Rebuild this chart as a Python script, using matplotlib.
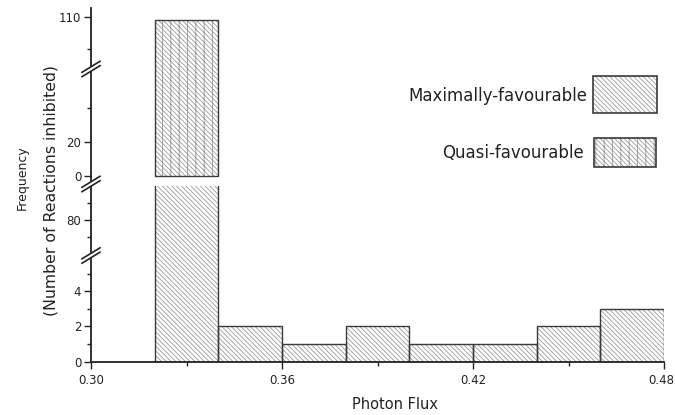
import numpy as np
import matplotlib
matplotlib.use("Agg")
import matplotlib.pyplot as plt
from matplotlib.patches import Rectangle, Polygon
from matplotlib.lines import Line2D
from matplotlib.transforms import ScaledTranslation

# histogram data (photon flux bins)
bin_edges = [0.32, 0.34, 0.36, 0.38, 0.40, 0.42, 0.44, 0.46, 0.48]
max_counts = [96, 2, 1, 2, 1, 1, 2, 3]
quasi_counts = [109, 0, 0, 0, 0, 0, 0, 0]

x_ticks = [0.30, 0.36, 0.42, 0.48]
x_tick_labels = ["0.30", "0.36", "0.42", "0.48"]
x_minor = [0.33, 0.39, 0.45]
low_ticks = [0, 2, 4, 80]
low_minor = [1, 3, 5, 75, 85]
high_ticks = [0, 20, 110]
high_minor = [40, 100]

W, H = 675, 415
EDGE = "#3a3a3a"
HATCH_C = "#9a9a9a"
MAX_HATCH = "\\" * 7
QUASI_HATCH = "\\" * 7 + "||"

plt.rcParams["font.family"] = "DejaVu Sans"
plt.rcParams["hatch.linewidth"] = 0.6


def fx(x):
    return x / W


def fy(y):
    return 1 - y / H


def broken_scale(vals, pix):
    fwd = lambda v: np.interp(v, vals, pix)
    inv = lambda p: np.interp(p, pix, vals)
    return fwd, inv


fig = plt.figure(figsize=(W / 100, H / 100), dpi=100)

# lower panel: 0..6, then 70..90 (maximally-favourable)
ax_lo = fig.add_axes([fx(91), fy(361.5), fx(664) - fx(91), (361.5 - 186) / H])
ax_lo.set_yscale("function", functions=broken_scale(
    [-10, 0, 6, 70, 300], [-175, 0, 105, 107, 107 + 230 * 3.4]))
# upper panel: 0..63, then 94..113 (quasi-favourable)
ax_hi = fig.add_axes([fx(91), fy(182), fx(664) - fx(91), (182 - 8) / H])
ax_hi.set_yscale("function", functions=broken_scale(
    [-20, 0, 63.5, 94, 200], [-28, 6, 114, 114.5, 114.5 + 106 * 3.2]))

lefts = np.array(bin_edges[:-1])
widths = np.diff(bin_edges)
max_counts = np.array(max_counts)
quasi_counts = np.array(quasi_counts)

ax_lo.bar(lefts, max_counts, width=widths, align="edge", color="white",
          edgecolor=HATCH_C, hatch=MAX_HATCH, linewidth=0)
ax_lo.bar(lefts, max_counts, width=widths, align="edge", fill=False,
          edgecolor=EDGE, linewidth=1.0)

m = quasi_counts > 0
ax_hi.bar(lefts[m], quasi_counts[m], width=widths[m], align="edge", color="white",
          edgecolor=HATCH_C, hatch=QUASI_HATCH, linewidth=0)
ax_hi.bar(lefts[m], quasi_counts[m], width=widths[m], align="edge", fill=False,
          edgecolor=EDGE, linewidth=1.0)

for ax in (ax_lo, ax_hi):
    ax.set_xlim(0.30, 0.48)
    for s in ("top", "right"):
        ax.spines[s].set_visible(False)
    ax.spines["left"].set_linewidth(1.3)
    ax.spines["left"].set_color("#222222")
    ax.tick_params(axis="y", which="major", direction="out", length=5, width=1,
                   labelsize=8.5, colors="#222222", pad=2)
    ax.tick_params(axis="y", which="minor", direction="out", length=3, width=1,
                   colors="#222222")
    ax.patch.set_alpha(0)

ax_lo.set_ylim(0, 90.1)
ax_lo.set_yticks(low_ticks)
ax_lo.set_yticklabels([str(t) for t in low_ticks])
ax_lo.set_yticks(low_minor, minor=True)
ax_lo.spines["bottom"].set_linewidth(1.3)
ax_lo.spines["bottom"].set_color("#222222")
ax_lo.set_xticks(x_ticks)
ax_lo.set_xticklabels(x_tick_labels)
ax_lo.set_xticks(x_minor, minor=True)
ax_lo.tick_params(axis="x", which="major", direction="out", length=5, width=1,
                  labelsize=8.5, colors="#222222", pad=4)
ax_lo.tick_params(axis="x", which="minor", direction="out", length=3, width=1,
                  colors="#222222")
# keep the last label inside the canvas
last = ax_lo.get_xticklabels()[-1]
last.set_transform(last.get_transform() + ScaledTranslation(-2.5 / 100, 0, fig.dpi_scale_trans))

ax_hi.set_ylim(-3.53, 112.9)
ax_hi.set_yticks(high_ticks)
ax_hi.set_yticklabels([str(t) for t in high_ticks])
ax_hi.set_yticks(high_minor, minor=True)
ax_hi.spines["bottom"].set_visible(False)
ax_hi.set_xticks([])
ax_hi.set_xticks([], minor=True)


# break marks on the y axis
def break_mark(y, x=91):
    dx, dy, g = 9, 5.5, 2.2
    poly = Polygon([(fx(x - dx), fy(y + dy - g)), (fx(x + dx), fy(y - dy - g)),
                    (fx(x + dx), fy(y - dy + g)), (fx(x - dx), fy(y + dy + g))],
                   closed=True, facecolor="white", edgecolor="none",
                   transform=fig.transFigure, zorder=10)
    fig.add_artist(poly)
    for off in (-g, g):
        fig.add_artist(Line2D([fx(x - dx), fx(x + dx)],
                              [fy(y + dy + off), fy(y - dy + off)],
                              color="#222222", lw=1.2, transform=fig.transFigure,
                              zorder=11))


for yb in (255.5, 184, 69):
    break_mark(yb)

# legend keys
fig.add_artist(Rectangle((fx(593), fy(113)), fx(657) - fx(593), 37 / H,
                         facecolor="white", edgecolor=HATCH_C, hatch=MAX_HATCH,
                         linewidth=0, transform=fig.transFigure))
fig.add_artist(Rectangle((fx(593), fy(113)), fx(657) - fx(593), 37 / H,
                         fill=False, edgecolor=EDGE, linewidth=1.2,
                         transform=fig.transFigure))
fig.add_artist(Rectangle((fx(594), fy(167)), fx(656) - fx(594), 29 / H,
                         facecolor="white", edgecolor=HATCH_C, hatch=QUASI_HATCH,
                         linewidth=0, transform=fig.transFigure))
fig.add_artist(Rectangle((fx(594), fy(167)), fx(656) - fx(594), 29 / H,
                         fill=False, edgecolor=EDGE, linewidth=1.2,
                         transform=fig.transFigure))
fig.text(fx(587), fy(96), "Maximally-favourable", ha="right", va="center",
         fontsize=12, color="#222222")
fig.text(fx(584), fy(153), "Quasi-favourable", ha="right", va="center",
         fontsize=12, color="#222222")

# axis titles
fig.text(fx(22), fy(178), "Frequency", rotation=90, ha="center", va="center",
         fontsize=9, color="#222222")
fig.text(fx(51), fy(190), "(Number of Reactions inhibited)", rotation=90,
         ha="center", va="center", fontsize=11.3, color="#222222")
fig.text(fx(395), fy(404), "Photon Flux", ha="center", va="center",
         fontsize=10.5, color="#222222")

fig.savefig("out.png", dpi=100)
